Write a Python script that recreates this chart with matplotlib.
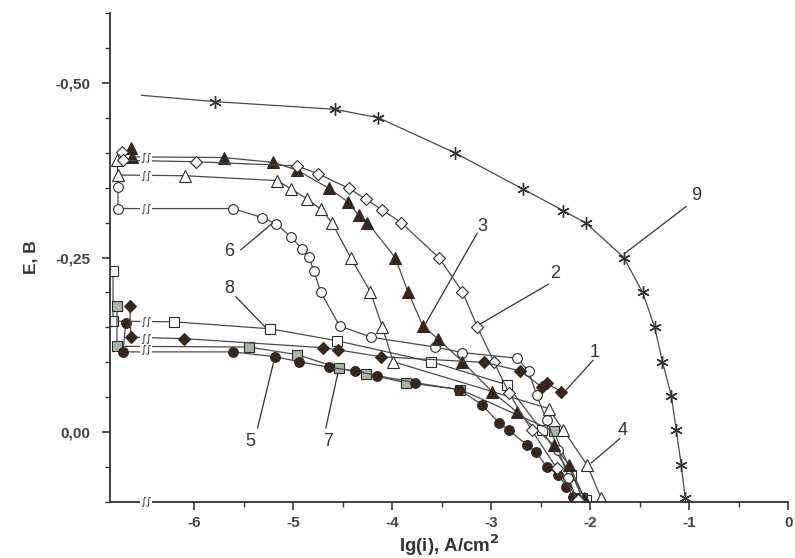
import matplotlib
matplotlib.use("Agg")
import matplotlib.pyplot as plt
from matplotlib.ticker import MultipleLocator

plt.rcParams['font.family'] = ['Liberation Sans', 'DejaVu Sans']

# polarization curves, lg(i) in A/cm2 and E in V
lg_1 = [-6.65, -6.64, -6.10, -4.70, -4.55, -4.11, -3.07, -2.71, -2.49, -2.44, -2.29]
e_1 = [-0.180, -0.136, -0.134, -0.121, -0.118, -0.108, -0.100, -0.088, -0.065, -0.070, -0.058]

lg_2 = [-6.73, -6.72, -5.98, -4.96, -4.75, -4.44, -4.26, -4.10, -3.91, -3.53, -3.29, -3.14,
        -2.97, -2.82, -2.59, -2.34, -2.12]
e_2 = [-0.401, -0.389, -0.387, -0.381, -0.370, -0.349, -0.333, -0.318, -0.300, -0.250, -0.201,
       -0.151, -0.100, -0.056, -0.003, 0.051, 0.097]

lg_3 = [-6.64, -6.63, -5.70, -5.20, -4.96, -4.64, -4.45, -4.34, -4.25, -3.97, -3.84, -3.69,
        -3.54, -3.29, -2.99, -2.74, -2.37, -2.21, -2.06]
e_3 = [-0.407, -0.394, -0.393, -0.386, -0.375, -0.349, -0.330, -0.311, -0.300, -0.250, -0.201,
       -0.152, -0.134, -0.101, -0.058, -0.029, 0.018, 0.047, 0.094]

lg_4 = [-6.78, -6.77, -6.09, -5.16, -5.02, -4.86, -4.72, -4.61, -4.42, -4.22, -4.10, -3.99,
        -2.42, -2.27, -2.03, -1.89]
e_4 = [-0.389, -0.368, -0.367, -0.360, -0.348, -0.334, -0.319, -0.300, -0.250, -0.201, -0.151,
       -0.101, -0.034, -0.003, 0.047, 0.094]

lg_5 = [-6.69, -6.72, -5.61, -5.18, -4.94, -4.64, -4.38, -4.15, -3.77, -3.32, -3.09, -2.92,
        -2.82, -2.64, -2.55, -2.44, -2.32, -2.24, -2.17]
e_5 = [-0.157, -0.115, -0.115, -0.108, -0.101, -0.093, -0.088, -0.081, -0.071, -0.061, -0.039,
       -0.013, -0.003, 0.018, 0.028, 0.049, 0.061, 0.078, 0.092]

lg_6 = [-6.77, -6.77, -5.61, -5.31, -5.17, -5.02, -4.91, -4.84, -4.79, -4.72, -4.53, -4.21,
        -3.57, -3.29, -2.74, -2.62, -2.54, -2.44, -2.32, -2.22, -2.14]
e_6 = [-0.351, -0.320, -0.320, -0.307, -0.298, -0.279, -0.262, -0.251, -0.230, -0.200, -0.152,
       -0.136, -0.122, -0.114, -0.106, -0.087, -0.053, -0.017, 0.025, 0.065, 0.094]

lg_7 = [-6.78, -6.78, -5.45, -4.96, -4.54, -4.26, -3.86, -3.31, -2.37, -2.08]
e_7 = [-0.180, -0.123, -0.122, -0.111, -0.092, -0.083, -0.071, -0.061, -0.002, 0.094]

lg_8 = [-6.82, -6.82, -6.20, -5.23, -4.56, -3.61, -2.84, -2.49, -2.19, -2.04]
e_8 = [-0.231, -0.159, -0.158, -0.148, -0.131, -0.101, -0.068, -0.003, 0.061, 0.097]

lg_9 = [-6.53, -5.79, -4.58, -4.14, -3.37, -2.68, -2.27, -2.04, -1.66, -1.47, -1.35, -1.27,
        -1.18, -1.13, -1.08, -1.04]
e_9 = [-0.482, -0.473, -0.462, -0.450, -0.400, -0.348, -0.317, -0.299, -0.250, -0.200, -0.151,
       -0.101, -0.052, -0.003, 0.047, 0.094]

y_ticks = [-0.50, -0.25, 0.00]
y_tick_labels = ["-0,50", "-0,25", "0,00"]
x_ticks = [-6, -5, -4, -3, -2, -1, 0]

line_c = '#4a4a4a'
dark = '#3b2419'
grey_fill = '#a9b5a6'

fig = plt.figure(figsize=(7.95, 5.58), dpi=100)
ax = fig.add_axes([0.1384, 0.100, 0.853, 0.877])

base = dict(color=line_c, lw=0.9, mew=0.8, mec='#2b2b2b')
ax.plot(lg_8, e_8, marker='s', mfc='white', ms=6.5, **base)
ax.plot(lg_7, e_7, marker='s', mfc=grey_fill, ms=6.5, **base)
ax.plot(lg_6, e_6, marker='o', mfc='white', ms=7, **base)
ax.plot(lg_5, e_5, marker='o', mfc=dark, ms=7, **base)
ax.plot(lg_4, e_4, marker='^', mfc='white', ms=8, **base)
ax.plot(lg_3, e_3, marker='^', mfc=dark, ms=8, **base)
ax.plot(lg_2, e_2, marker='D', mfc='white', ms=6.5, **base)
ax.plot(lg_1, e_1, marker='D', mfc=dark, ms=6.5, **base)
ax.plot(lg_9, e_9, marker=(6, 2, 0), markevery=range(1, len(lg_9)), color=line_c, lw=0.9,
        ms=9, mew=1.0, mec='#333333')

# axis break marks
for yb in [-0.392, -0.367, -0.320, -0.158, -0.134, -0.118, 0.1]:
    ax.text(-6.49, yb, '∫∫', fontsize=8, ha='center', va='center', color='#333333',
            family='DejaVu Sans', clip_on=False,
            bbox=dict(facecolor='white', edgecolor='none', pad=0.2))

# curve numbers with leader lines
labels = ['1', '2', '3', '4', '5', '6', '7', '8', '9']
label_xy = [(-1.95, -0.114), (-2.35, -0.227), (-3.09, -0.294), (-1.67, -0.003), (-5.43, 0.013),
            (-5.65, -0.258), (-4.65, 0.013), (-5.65, -0.205), (-0.93, -0.339)]
lead_from = [(-1.97, -0.103), (-2.42, -0.212), (-3.14, -0.285), (-1.70, 0.009), (-5.36, -0.006),
             (-5.53, -0.261), (-4.67, -0.006), (-5.58, -0.194), (-1.03, -0.323)]
lead_to = [(-2.24, -0.061), (-3.11, -0.155), (-3.66, -0.156), (-1.99, 0.044), (-5.20, -0.099),
           (-5.21, -0.299), (-4.55, -0.084), (-5.28, -0.150), (-1.65, -0.256)]
for t, p, a, b in zip(labels, label_xy, lead_from, lead_to):
    ax.annotate('', xy=b, xytext=a, arrowprops=dict(arrowstyle='-', color='#333333', lw=0.9,
                                                    shrinkA=0, shrinkB=0))
    ax.text(p[0], p[1], t, fontsize=13, ha='center', va='center', color='#333333')

ax.set_xlim(-6.85, 0)
ax.set_ylim(0.1, -0.6)
ax.set_xticks(x_ticks)
ax.set_xticklabels([str(v) for v in x_ticks])
ax.set_yticks(y_ticks)
ax.set_yticklabels(y_tick_labels)
ax.set_xticks([-5.5, -4.5, -3.5, -2.5, -1.5, -0.5], minor=True)
ax.yaxis.set_minor_locator(MultipleLocator(0.05))

for s in ['top', 'right']:
    ax.spines[s].set_visible(False)
for s in ['left', 'bottom']:
    ax.spines[s].set_color('#333333')
    ax.spines[s].set_linewidth(1.3)

ax.tick_params(which='major', direction='out', length=6, width=1.2, colors='#333333',
               labelsize=11)
ax.tick_params(axis='x', which='major', pad=4)
ax.tick_params(axis='y', which='major', pad=8)
ax.tick_params(which='minor', direction='out', length=3.5, width=1.0, colors='#333333')
for lab in ax.get_xticklabels() + ax.get_yticklabels():
    lab.set_fontweight('bold')
    lab.set_color('#444444')

ax.set_xlabel('lg(i), A/cm$^{\\mathbf{2}}$', fontsize=13.5, fontweight='bold', color='#333333',
              labelpad=2)
ax.set_ylabel('E, B', fontsize=12.5, fontweight='bold', color='#333333', labelpad=12)

fig.savefig('out.png', dpi=100)
